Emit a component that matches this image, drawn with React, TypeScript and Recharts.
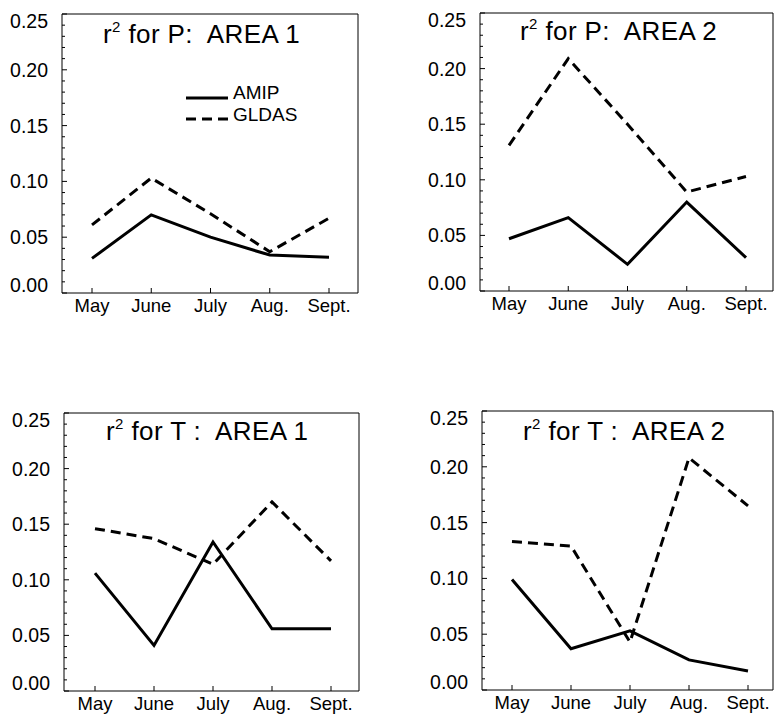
import { LineChart, Line, XAxis, YAxis, ReferenceLine } from 'recharts';

const months = ['May', 'June', 'July', 'Aug.', 'Sept.'];

const pArea1Amip = [0.031, 0.07, 0.05, 0.034, 0.032];
const pArea1Gldas = [0.061, 0.103, 0.071, 0.037, 0.067];
const pArea2Amip = [0.047, 0.066, 0.024, 0.08, 0.03];
const pArea2Gldas = [0.131, 0.209, 0.15, 0.089, 0.103];
const tArea1Amip = [0.106, 0.041, 0.134, 0.056, 0.056];
const tArea1Gldas = [0.146, 0.137, 0.114, 0.17, 0.117];
const tArea2Amip = [0.099, 0.037, 0.053, 0.027, 0.017];
const tArea2Gldas = [0.133, 0.129, 0.043, 0.208, 0.165];

const yTicks = [
  0, 0.01, 0.02, 0.03, 0.04, 0.05, 0.06, 0.07, 0.08, 0.09, 0.1, 0.11, 0.12,
  0.13, 0.14, 0.15, 0.16, 0.17, 0.18, 0.19, 0.2, 0.21, 0.22, 0.23, 0.24, 0.25,
];

const FONT = '"Liberation Sans", Arial, Helvetica, sans-serif';
const Y_AXIS_W = 62;
const TOP = 10;
const X_AXIS_H = 32;

const isMajor = (v: number) => Math.round(v * 100) % 5 === 0;

function LeftTick(props: any) {
  const { x, y, payload } = props;
  const v = payload.value;
  const major = isMajor(v);
  let shift = 7;
  if (v === 0) shift = -1.5;
  if (v === 0.25) shift = 14;
  return (
    <g>
      <line x1={x} x2={x + (major ? 5 : 3)} y1={y} y2={y} stroke="#000" />
      {major && (
        <text x={x - 14} y={y + shift} textAnchor="end" fontSize={19.5} fontFamily={FONT} fill="#000">
          {v.toFixed(2)}
        </text>
      )}
    </g>
  );
}

function RightTick(props: any) {
  const { x, y, payload } = props;
  const major = isMajor(payload.value);
  return <line x1={x} x2={x - (major ? 5 : 3)} y1={y} y2={y} stroke="#000" />;
}

function BottomTick(props: any) {
  const { x, y, payload } = props;
  return (
    <g>
      <line x1={x} x2={x} y1={y} y2={y - 5} stroke="#000" />
      <text x={x} y={y + 18.5} textAnchor="middle" fontSize={18.5} fontFamily={FONT} fill="#000">
        {payload.value}
      </text>
    </g>
  );
}

type PanelProps = {
  variable: string;
  area: number;
  amip: number[];
  gldas: number[];
  plotLeft: number;
  plotTop: number;
  plotW: number;
  plotH: number;
  padL: number;
  padR: number;
  titleDx: number;
  titleDy: number;
  legend?: boolean;
};

function Panel(p: PanelProps) {
  const data = months.map((m, i) => ({ month: m, amip: p.amip[i], gldas: p.gldas[i] }));
  const width = Y_AXIS_W + p.plotW + 2;
  const height = TOP + p.plotH + X_AXIS_H;
  const tx = Y_AXIS_W + p.titleDx;
  const ty = TOP + p.titleDy;
  return (
    <div style={{ position: 'absolute', left: p.plotLeft - Y_AXIS_W, top: p.plotTop - TOP }}>
      <LineChart width={width} height={height} data={data} margin={{ top: TOP, right: 0, bottom: 0, left: 0 }}>
        <XAxis
          dataKey="month"
          height={X_AXIS_H}
          padding={{ left: p.padL, right: p.padR }}
          axisLine={{ stroke: '#000' }}
          tickLine={false}
          tickSize={0}
          tickMargin={0}
          interval={0}
          tick={<BottomTick />}
        />
        <YAxis
          yAxisId="left"
          width={Y_AXIS_W}
          domain={[0, 0.25]}
          ticks={yTicks}
          interval={0}
          axisLine={{ stroke: '#000' }}
          tickLine={false}
          tickSize={0}
          tickMargin={0}
          tick={<LeftTick />}
        />
        <YAxis
          yAxisId="right"
          orientation="right"
          width={2}
          domain={[0, 0.25]}
          ticks={yTicks}
          interval={0}
          axisLine={{ stroke: '#000' }}
          tickLine={false}
          tickSize={0}
          tickMargin={0}
          tick={<RightTick />}
        />
        <ReferenceLine yAxisId="left" y={0.25} stroke="#000" />
        <Line
          yAxisId="left"
          type="linear"
          dataKey="amip"
          stroke="#000"
          strokeWidth={3}
          dot={false}
          isAnimationActive={false}
        />
        <Line
          yAxisId="left"
          type="linear"
          dataKey="gldas"
          stroke="#000"
          strokeWidth={3}
          strokeDasharray="10 6"
          dot={false}
          isAnimationActive={false}
        />
        <text x={tx} y={ty} fontSize={26} fontFamily={FONT} fill="#000" letterSpacing={0.4} style={{ whiteSpace: 'pre' }}>
          <tspan>r</tspan>
          <tspan fontSize={15} dy={-11}>2</tspan>
          <tspan dy={11}>{` for ${p.variable}:  AREA ${p.area}`}</tspan>
        </text>
        {p.legend && (
          <g fontFamily={FONT} fontSize={19} fill="#000">
            <line x1={186} x2={228} y1={94} y2={94} stroke="#000" strokeWidth={3} />
            <text x={233} y={95}>AMIP</text>
            <line x1={186} x2={230} y1={115} y2={115} stroke="#000" strokeWidth={3} strokeDasharray="10 6" />
            <text x={233} y={117}>GLDAS</text>
          </g>
        )}
      </LineChart>
    </div>
  );
}

export default function App() {
  return (
    <div style={{ position: 'absolute', left: 0, top: 0, width: 775, height: 715, background: '#fff' }}>
      <Panel variable="P" area={1} amip={pArea1Amip} gldas={pArea1Gldas}
        plotLeft={62} plotTop={14} plotW={296} plotH={279} padL={30} padR={29} titleDx={41} titleDy={29} legend />
      <Panel variable="P" area={2} amip={pArea2Amip} gldas={pArea2Gldas}
        plotLeft={480} plotTop={13} plotW={293} plotH={278} padL={29} padR={27} titleDx={40} titleDy={27} />
      <Panel variable="T " area={1} amip={tArea1Amip} gldas={tArea1Gldas}
        plotLeft={64} plotTop={413} plotW={295} plotH={278} padL={31} padR={28} titleDx={42} titleDy={27} />
      <Panel variable="T " area={2} amip={tArea2Amip} gldas={tArea2Gldas}
        plotLeft={482} plotTop={411} plotW={291} plotH={279} padL={30} padR={25} titleDx={41} titleDy={29} />
    </div>
  );
}
